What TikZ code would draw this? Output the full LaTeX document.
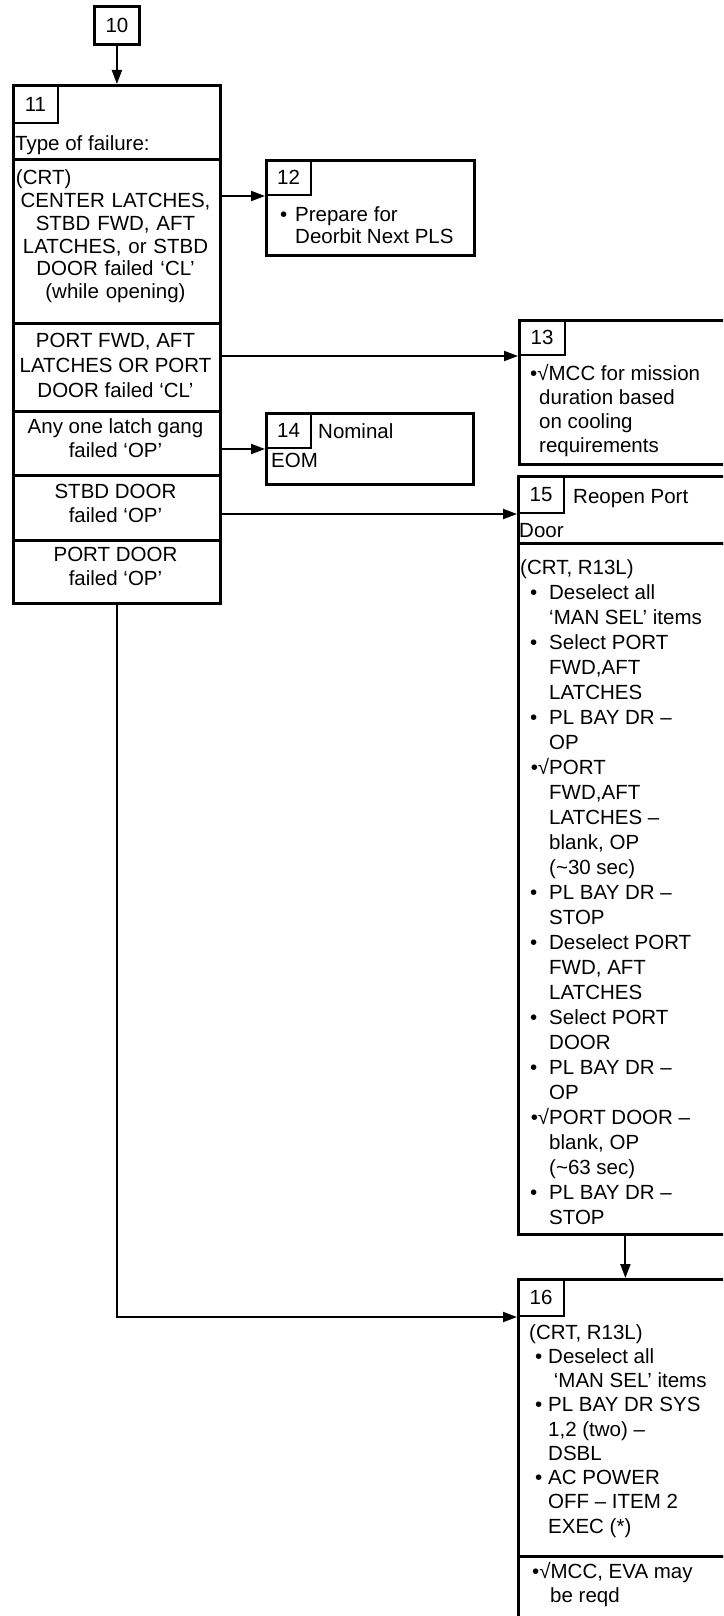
\documentclass[tikz,border=0pt]{standalone}
\usepackage{fontspec}
\setmainfont{Liberation Sans}
\usetikzlibrary{arrows.meta}
\newcommand\dfont{\fontsize{20.5pt}{24pt}\selectfont}
\newcommand\bulA{\makebox[29pt][l]{\hspace*{10pt}•}}
\newcommand\chkA{\makebox[29pt][r]{•√}}
\newcommand\indA{\hspace*{29pt}}
\newcommand\bulB{\makebox[19pt][l]{\hspace*{6pt}•}}
\newcommand\indB{\hspace*{19pt}}
\begin{document}
\begin{tikzpicture}[x=1pt,y=-1pt,
  box/.style={draw, line width=2.8pt, inner sep=0pt, anchor=north west, font=\dfont},
  numbox/.style={draw, line width=2pt, inner sep=0pt, anchor=north west, minimum width=45pt, minimum height=36pt, font=\dfont},
  txt/.style={inner sep=0pt, anchor=base west, align=left, font=\dfont},
  ctxt/.style={inner sep=0pt, align=center, anchor=base, font=\dfont},
  arr/.style={line width=2pt, -{Triangle[length=14pt,width=10pt]}}
]
\useasboundingbox (0,0) rectangle (723,1616);
\clip (0,0) rectangle (723,1616);

% box 10
\node[box, minimum width=45pt, minimum height=38pt] (b10) at (93,5) {10};

% box 11
\node[box, minimum width=207pt, minimum height=518pt] (b11) at (12,84) {};
\node[numbox, minimum height=38pt] (n11) at (12,84) {11};
\node[txt] (t11) at (15,151) {Type of failure:};
\node[box, minimum width=207pt, minimum height=164pt] (r1) at (12,158) {};
\node[box, minimum width=207pt, minimum height=88pt] (r2) at (12,322) {};
\node[box, minimum width=207pt, minimum height=64pt] (r3) at (12,410) {};
\node[box, minimum width=207pt, minimum height=65pt] (r4) at (12,474) {};
\node[box, minimum width=207pt, minimum height=63pt] (r5) at (12,539) {};
\node[ctxt, text width=199pt, font=\fontsize{20.5pt}{22.7pt}\selectfont] (t1) at (115.5,185)
  {\makebox[199pt][l]{(CRT)}\\CENTER LATCHES,\\STBD FWD, AFT\\LATCHES, or STBD\\DOOR failed ‘CL’\\(while opening)};
\node[ctxt, font=\fontsize{20.5pt}{25pt}\selectfont] (t2) at (115.5,397)
  {PORT FWD, AFT\\LATCHES OR PORT\\DOOR failed ‘CL’};
\node[ctxt] (t3) at (115.5,457) {Any one latch gang\\failed ‘OP’};
\node[ctxt] (t4) at (115.5,522) {STBD DOOR\\failed ‘OP’};
\node[ctxt] (t5) at (115.5,585) {PORT DOOR\\failed ‘OP’};

% box 12
\node[box, minimum width=208pt, minimum height=95pt] (b12) at (265,159) {};
\node[numbox, minimum height=35pt] (n12) at (265,159) {12};
\node[txt, font=\fontsize{20.5pt}{22pt}\selectfont] (t12) at (280,243)
  {\makebox[15pt][l]{•}Prepare for\\\hspace*{15pt}Deorbit Next PLS};

% box 13
\node[box, minimum width=260pt, minimum height=144pt] (b13) at (518,319) {};
\node[numbox, minimum width=46pt, minimum height=35pt] (n13) at (518,319) {13};
\node[txt] (t13) at (530,452)
  {•√MCC for mission\\\hspace*{9pt}duration based\\\hspace*{9pt}on cooling\\\hspace*{9pt}requirements};

% box 14
\node[box, minimum width=207pt, minimum height=71pt] (b14) at (265,412) {};
\node[numbox, minimum height=35pt] (n14) at (265,412) {14};
\node[txt] (t14a) at (318,438) {Nominal};
\node[txt] (t14b) at (271,467) {EOM};

% box 15
\node[box, minimum width=214pt, minimum height=67pt] (b15a) at (517,475) {};
\node[box, minimum width=214pt, minimum height=691pt] (b15b) at (517,542) {};
\node[numbox, minimum width=46pt, minimum height=37pt] (n15) at (517,475) {15};
\node[txt] (t15a) at (573,503) {Reopen Port};
\node[txt] (t15b) at (519,537) {Door};
\node[txt, font=\fontsize{20.5pt}{25pt}\selectfont] (t15) at (520,1224)
  {(CRT, R13L)\\
   \bulA Deselect all\\\indA ‘MAN SEL’ items\\
   \bulA Select PORT\\\indA FWD,AFT\\\indA LATCHES\\
   \bulA PL BAY DR –\\\indA OP\\
   \chkA PORT\\\indA FWD,AFT\\\indA LATCHES –\\\indA blank, OP\\\indA (\textasciitilde 30 sec)\\
   \bulA PL BAY DR –\\\indA STOP\\
   \bulA Deselect PORT\\\indA FWD, AFT\\\indA LATCHES\\
   \bulA Select PORT\\\indA DOOR\\
   \bulA PL BAY DR –\\\indA OP\\
   \chkA PORT DOOR –\\\indA blank, OP\\\indA (\textasciitilde 63 sec)\\
   \bulA PL BAY DR –\\\indA STOP};

% box 16
\node[box, minimum width=214pt, minimum height=277pt] (b16a) at (517,1278) {};
\node[box, minimum width=214pt, minimum height=100pt] (b16b) at (517,1555) {};
\node[numbox, minimum width=46pt, minimum height=37pt] (n16) at (517,1278) {16};
\node[txt, font=\fontsize{20.5pt}{24.25pt}\selectfont] (t16) at (529,1533)
  {(CRT, R13L)\\
   \bulB Deselect all\\\indB\ ‘MAN SEL’ items\\
   \bulB PL BAY DR SYS\\\indB 1,2 (two) –\\\indB DSBL\\
   \bulB AC POWER\\\indB OFF – ITEM 2\\\indB EXEC (*)};
\node[txt] (t16b) at (532,1602) {•√MCC, EVA may\\\hspace*{18pt}be reqd};

% connectors
\draw[arr] (b10.south) -- (b11.north);
\draw[arr] (r1.east |- n12.south west) -- (n12.south west);
\draw[arr] (r2.east |- n13.south west) -- (n13.south west);
\draw[arr] (r3.east |- n14.south west) -- (n14.south west);
\draw[arr] (r4.east |- n15.south west) -- (n15.south west);
\draw[arr] (b15b.south) -- (b16a.north);
\draw[arr] (r5.south) |- (n16.south west);
\end{tikzpicture}
\end{document}
